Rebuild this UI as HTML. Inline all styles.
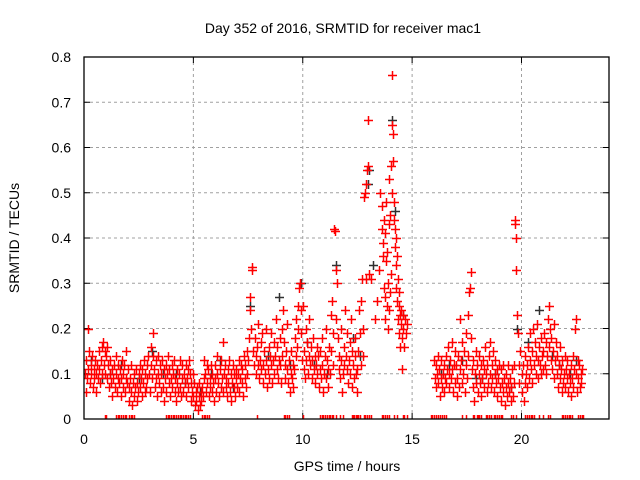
<!DOCTYPE html>
<html><head><meta charset="utf-8"><style>
html,body{margin:0;padding:0;background:#fff;}
svg{display:block;font-family:"Liberation Sans",sans-serif;}
</style></head><body>
<svg id="chart" width="640" height="480" viewBox="0 0 640 480">
<rect x="0" y="0" width="640" height="480" fill="#fff"/>
<text x="343" y="33" font-size="14" text-anchor="middle" fill="#000">Day 352 of 2016, SRMTID for receiver mac1</text>
<text x="347" y="471" font-size="14" text-anchor="middle" fill="#000">GPS time / hours</text>
<text transform="translate(19,238) rotate(-90)" font-size="14" text-anchor="middle" fill="#000">SRMTID / TECUs</text>
<g id="grid"></g>
<g id="axes"></g>
<g id="clipped" clip-path="url(#pc)">
<g id="black"></g>
<g id="red"></g>
</g>
<defs><clipPath id="pc"><rect x="84" y="57" width="525" height="362.5"/></clipPath></defs>
<rect x="84" y="57" width="525" height="362" fill="none" stroke="#000" stroke-width="1.3"/>
</svg>
<script>
const xTicks=[0,5,10,15,20];
const yTicks=[0,0.1,0.2,0.3,0.4,0.5,0.6,0.7,0.8];
const yTickLabels=["0","0.1","0.2","0.3","0.4","0.5","0.6","0.7","0.8"];
const redPoints=[
[0.05,.1],[.08,.13],[.1,.06],[.13,.09],[.16,.2],[.2,.11],[.24,.15],[.27,.08],[.3,.12],[.34,.1],[.37,.14],[.4,.07],[.44,.11],[.47,.09],[.5,.13],[.54,.1],[.57,.06],[.6,.12],[.64,.09],[.67,.15],[.7,.11],[.74,.08],[.77,.13],[.8,.1],[.84,.16],[.87,.17],[.9,.12],[.94,.15],[.97,.1],
[1.0,.14],[1.04,.16],[1.07,.09],[1.1,.12],[1.14,.07],[1.17,.1],[1.2,.13],[1.24,.08],[1.27,.11],[1.3,.05],[1.34,.09],[1.37,.12],[1.4,.07],[1.44,.1],[1.47,.14],[1.5,.06],[1.54,.09],[1.57,.12],[1.6,.08],[1.64,.11],[1.67,.05],[1.7,.09],[1.74,.13],[1.77,.07],[1.8,.1],[1.84,.12],[1.87,.06],[1.9,.09],[1.94,.15],[1.97,.08],
[2.0,.11],[2.04,.07],[2.07,.04],[2.1,.09],[2.14,.12],[2.17,.06],[2.2,.03],[2.24,.08],[2.27,.1],[2.3,.05],[2.34,.07],[2.37,.11],[2.4,.04],[2.44,.08],[2.47,.06],[2.5,.1],[2.54,.12],[2.57,.07],[2.6,.09],[2.64,.05],[2.67,.11],[2.7,.08],[2.74,.13],[2.77,.06],[2.8,.1],[2.84,.07],[2.87,.12],[2.9,.09],[2.94,.14],[2.97,.1],
[3.0,.06],[3.04,.12],[3.07,.16],[3.1,.09],[3.14,.14],[3.17,.19],[3.2,.11],[3.24,.07],[3.27,.13],[3.3,.09],[3.34,.05],[3.37,.1],[3.4,.14],[3.44,.08],[3.47,.12],[3.5,.06],[3.54,.1],[3.57,.13],[3.6,.07],[3.64,.11],[3.67,.04],[3.7,.09],[3.74,.12],[3.77,.06],[3.8,.1],[3.84,.14],[3.87,.08],[3.9,.11],[3.94,.05],[3.97,.09],
[4.0,.12],[4.04,.07],[4.07,.1],[4.1,.13],[4.14,.06],[4.17,.09],[4.2,.04],[4.24,.08],[4.27,.11],[4.3,.06],[4.34,.1],[4.37,.13],[4.4,.07],[4.44,.05],[4.47,.09],[4.5,.12],[4.54,.06],[4.57,.1],[4.6,.08],[4.64,.12],[4.67,.05],[4.7,.09],[4.74,.11],[4.77,.07],[4.8,.13],[4.84,.1],[4.87,.04],[4.9,.08],[4.94,.06],[4.97,.1],
[5.0,.05],[5.04,.08],[5.07,.03],[5.1,.06],[5.14,.04],[5.17,.07],[5.2,.02],[5.24,.05],[5.27,.08],[5.3,.03],[5.34,.06],[5.37,.04],[5.4,.07],[5.44,.05],[5.47,.09],[5.5,.13],[5.54,.1],[5.57,.06],[5.6,.12],[5.64,.08],[5.67,.11],[5.7,.05],[5.74,.09],[5.77,.07],[5.8,.12],[5.84,.06],[5.87,.1],[5.9,.08],[5.94,.04],[5.97,.09],
[6.0,.12],[6.04,.06],[6.07,.1],[6.1,.14],[6.14,.08],[6.17,.05],[6.2,.11],[6.24,.07],[6.27,.13],[6.3,.09],[6.34,.17],[6.37,.06],[6.4,.1],[6.44,.12],[6.47,.07],[6.5,.09],[6.54,.05],[6.57,.11],[6.6,.08],[6.64,.13],[6.67,.06],[6.7,.1],[6.74,.04],[6.77,.08],[6.8,.12],[6.84,.07],[6.87,.1],[6.9,.05],[6.94,.09],[6.97,.11],
[7.0,.07],[7.04,.1],[7.07,.13],[7.1,.06],[7.14,.09],[7.17,.12],[7.2,.08],[7.24,.11],[7.27,.05],[7.3,.14],[7.34,.09],[7.37,.12],[7.4,.07],[7.44,.1],[7.47,.15],[7.5,.13],[7.54,.18],[7.57,.27],[7.6,.24],[7.64,.2],[7.67,.335],[7.7,.33],[7.74,.15],[7.77,.12],[7.8,.18],[7.84,.1],[7.87,.14],[7.9,.16],[7.94,.21],[7.97,.12],
[8.0,.09],[8.04,.13],[8.07,.17],[8.1,.11],[8.14,.19],[8.17,.08],[8.2,.12],[8.24,.15],[8.27,.1],[8.3,.2],[8.34,.13],[8.37,.07],[8.4,.11],[8.44,.16],[8.47,.09],[8.5,.14],[8.54,.19],[8.57,.12],[8.6,.08],[8.64,.13],[8.67,.17],[8.7,.1],[8.74,.14],[8.77,.22],[8.8,.11],[8.84,.16],[8.87,.09],[8.9,.13],[8.94,.18],[8.97,.12],
[9.0,.08],[9.04,.14],[9.07,.2],[9.1,.24],[9.14,.17],[9.17,.12],[9.2,.09],[9.24,.15],[9.27,.21],[9.3,.11],[9.34,.08],[9.37,.13],[9.4,.06],[9.44,.1],[9.47,.15],[9.5,.09],[9.54,.12],[9.57,.07],[9.6,.11],[9.64,.18],[9.67,.14],[9.7,.22],[9.74,.16],[9.77,.25],[9.8,.2],[9.84,.29],[9.87,.3],[9.9,.24],[9.94,.19],[9.97,.13],
[10.0,.25],[10.04,.11],[10.07,.15],[10.1,.09],[10.14,.2],[10.17,.13],[10.2,.17],[10.24,.1],[10.27,.14],[10.3,.22],[10.34,.12],[10.37,.16],[10.4,.09],[10.44,.13],[10.47,.18],[10.5,.11],[10.54,.14],[10.57,.08],[10.6,.12],[10.64,.16],[10.67,.1],[10.7,.14],[10.74,.07],[10.77,.11],[10.8,.15],[10.84,.09],[10.87,.18],[10.9,.12],[10.94,.06],[10.97,.1],
[11.0,.14],[11.04,.09],[11.07,.2],[11.1,.13],[11.14,.07],[11.17,.11],[11.2,.16],[11.24,.1],[11.27,.23],[11.3,.15],[11.34,.26],[11.37,.19],[11.4,.12],[11.44,.42],[11.47,.415],[11.5,.22],[11.54,.33],[11.57,.3],[11.6,.18],[11.64,.11],[11.67,.14],[11.7,.09],[11.74,.2],[11.77,.13],[11.8,.06],[11.84,.1],[11.87,.16],[11.9,.12],[11.94,.24],[11.97,.14],
[12.0,.19],[12.04,.11],[12.07,.08],[12.1,.13],[12.14,.17],[12.17,.1],[12.2,.22],[12.24,.15],[12.27,.07],[12.3,.12],[12.34,.09],[12.37,.14],[12.4,.18],[12.44,.1],[12.47,.06],[12.5,.11],[12.54,.15],[12.57,.24],[12.6,.19],[12.64,.12],[12.67,.26],[12.7,.31],[12.74,.2],[12.77,.14],[12.8,.49],[12.84,.5],[12.87,.52],[12.9,.31],[12.94,.55],[12.97,.66],
[13.0,.56],[13.04,.32],[13.1,.31],[13.3,.22],[13.4,.26],[13.5,.33],[13.55,.5],[13.6,.42],[13.63,.47],[13.65,.39],[13.68,.36],[13.7,.44],[13.72,.29],[13.74,.27],[13.76,.41],[13.78,.22],[13.8,.35],[13.82,.48],[13.84,.25],[13.86,.37],[13.88,.3],[13.9,.2],[13.92,.43],[13.94,.24],[13.96,.53],[13.98,.28],
[14.0,.45],[14.02,.56],[14.04,.32],[14.06,.5],[14.08,.76],[14.1,.65],[14.12,.63],[14.14,.57],[14.16,.48],[14.18,.44],[14.2,.38],[14.22,.42],[14.24,.34],[14.26,.4],[14.28,.29],[14.3,.36],[14.32,.26],[14.34,.31],[14.36,.22],[14.38,.25],[14.4,.19],[14.42,.28],[14.44,.23],[14.46,.16],[14.48,.21],[14.5,.24],[14.52,.18],[14.54,.11],[14.56,.2],[14.6,.23],[14.64,.16],[14.68,.22],[14.72,.19],[14.76,.21],
[16.0,.13],[16.04,.09],[16.07,.12],[16.1,.07],[16.14,.1],[16.17,.14],[16.2,.08],[16.24,.11],[16.27,.05],[16.3,.09],[16.34,.13],[16.37,.07],[16.4,.1],[16.44,.06],[16.47,.12],[16.5,.09],[16.54,.14],[16.57,.08],[16.6,.11],[16.64,.16],[16.67,.1],[16.7,.07],[16.74,.13],[16.77,.09],[16.8,.17],[16.84,.11],[16.87,.06],[16.9,.12],[16.94,.15],[16.97,.08],
[17.0,.12],[17.04,.05],[17.07,.09],[17.1,.14],[17.14,.07],[17.17,.11],[17.2,.22],[17.24,.13],[17.27,.08],[17.3,.17],[17.34,.1],[17.37,.15],[17.4,.06],[17.44,.12],[17.47,.19],[17.5,.09],[17.54,.23],[17.57,.14],[17.6,.28],[17.64,.29],[17.67,.325],[17.7,.18],[17.74,.11],[17.77,.07],[17.8,.13],[17.84,.04],[17.87,.1],[17.9,.15],[17.94,.08],[17.97,.12],
[18.0,.06],[18.04,.1],[18.07,.14],[18.1,.08],[18.14,.12],[18.17,.05],[18.2,.09],[18.24,.13],[18.27,.07],[18.3,.11],[18.34,.16],[18.37,.1],[18.4,.06],[18.44,.12],[18.47,.08],[18.5,.14],[18.54,.17],[18.57,.1],[18.6,.07],[18.64,.12],[18.67,.09],[18.7,.15],[18.74,.06],[18.77,.1],[18.8,.13],[18.84,.08],[18.87,.11],[18.9,.05],[18.94,.09],[18.97,.12],
[19.0,.07],[19.04,.11],[19.07,.04],[19.1,.08],[19.14,.12],[19.17,.06],[19.2,.09],[19.24,.03],[19.27,.07],[19.3,.1],[19.34,.05],[19.37,.08],[19.4,.12],[19.44,.06],[19.47,.09],[19.5,.04],[19.54,.07],[19.57,.11],[19.6,.05],[19.64,.08],[19.67,.12],[19.7,.43],[19.72,.44],[19.74,.4],[19.76,.33],[19.8,.23],[19.84,.19],[19.87,.12],[19.9,.08],[19.94,.15],
[20.0,.1],[20.04,.06],[20.07,.12],[20.1,.04],[20.14,.08],[20.17,.14],[20.2,.1],[20.24,.07],[20.27,.12],[20.3,.16],[20.34,.09],[20.37,.13],[20.4,.19],[20.44,.11],[20.47,.15],[20.5,.08],[20.54,.2],[20.57,.12],[20.6,.17],[20.64,.1],[20.67,.14],[20.7,.21],[20.74,.13],[20.77,.09],[20.8,.16],[20.84,.12],[20.87,.18],[20.9,.1],[20.94,.14],[20.97,.11],
[21.0,.15],[21.04,.19],[21.07,.12],[21.1,.17],[21.14,.1],[21.17,.14],[21.2,.22],[21.24,.16],[21.27,.25],[21.3,.2],[21.34,.13],[21.37,.18],[21.4,.11],[21.44,.15],[21.47,.21],[21.5,.09],[21.54,.13],[21.57,.17],[21.6,.1],[21.64,.14],[21.67,.07],[21.7,.12],[21.74,.16],[21.77,.09],[21.8,.11],[21.84,.06],[21.87,.13],[21.9,.08],[21.94,.1],[21.97,.14],
[22.0,.07],[22.04,.11],[22.07,.09],[22.1,.13],[22.14,.06],[22.17,.1],[22.2,.08],[22.24,.12],[22.27,.05],[22.3,.09],[22.34,.14],[22.37,.07],[22.4,.11],[22.44,.2],[22.47,.22],[22.5,.1],[22.54,.06],[22.57,.13],[22.6,.09],[22.64,.12],[22.67,.07],[22.7,.1],[22.74,.08],[22.77,.11]
];
const redZeroTimes=[0.96,1.0,1.46,1.54,1.62,1.7,1.78,1.86,1.92,2.05,2.13,2.21,2.28,3.74,3.82,3.88,3.97,4.05,4.13,4.21,4.29,4.37,4.43,4.52,4.6,4.68,4.76,4.84,5.39,5.47,5.55,5.63,5.71,7.9,9.13,9.2,9.28,9.36,10.0,10.78,10.86,10.94,11.02,11.1,11.18,11.23,11.32,11.4,11.5,11.69,11.83,12.24,12.3,12.36,12.42,12.47,12.53,12.6,12.78,12.86,12.94,13.02,13.1,13.6,13.68,13.76,13.84,13.93,14.16,14.3,14.57,14.65,14.75,15.84,15.92,16.0,16.07,16.2,16.28,16.36,16.44,16.53,17.3,17.44,17.76,17.85,17.95,17.99,18.06,18.13,18.36,18.44,18.52,18.6,18.72,18.81,18.9,18.98,19.06,19.13,19.54,19.62,19.73,20.18,20.26,20.34,20.42,20.5,20.55,20.82,20.96,21.19,21.32,21.83,21.91,21.99,22.07,22.15,22.23,22.33,22.6,22.68,22.76,22.83];
const blackPoints=[[0.3,.13],[0.8,.09],[1.2,.1],[1.7,.12],[2.5,.09],[3.1,.15],[3.6,.1],[4.2,.1],[4.6,.08],[5.3,.06],[5.8,.1],[6.2,.13],[6.8,.07],[7.6,.25],[8.4,.14],[8.9,.27],[9.4,.12],[9.9,.3],[10.2,.17],[10.5,.12],[11.1,.1],[11.5,.34],[12.3,.18],[12.6,.14],[13.0,.52],[13.05,.55],[13.2,.34],[14.1,.66],[14.2,.46],[14.6,.23],[16.3,.1],[16.7,.12],[17.3,.13],[17.9,.09],[18.2,.09],[18.8,.1],[19.5,.07],[19.8,.2],[20.3,.17],[20.8,.24],[21.4,.14],[21.7,.12],[22.2,.1],[22.5,.13]];
const X0=84,X1=609,Y0=419,Y1=57,XMAX=24,YMAX=0.8;
function xs(t){return X0+(X1-X0)*t/XMAX;}
function ys(v){return Y0-(Y0-Y1)*v/YMAX;}
const NS="http://www.w3.org/2000/svg";
function mk(tag,attrs,parent){const e=document.createElementNS(NS,tag);for(const k in attrs)e.setAttribute(k,attrs[k]);parent.appendChild(e);return e;}
const grid=document.getElementById('grid'),axes=document.getElementById('axes');
yTicks.forEach((v,i)=>{
  const y=ys(v);
  if(i>0&&i<yTicks.length-1){const g=mk('line',{x1:X0,x2:X1,y1:y,y2:y,stroke:'#a0a0a0','stroke-dasharray':'3,3'},grid);
  
  }
  const tk=mk('path',{d:`M${X0},${y}h6M${X1},${y}h-6`,stroke:'#000'},axes);
  
  
  const t=mk('text',{x:71,y:y+5,'font-size':14,'text-anchor':'end',fill:'#000'},axes);
  t.textContent=yTickLabels[i];
  
  
});
xTicks.forEach((v,i)=>{
  const x=xs(v);
  if(i>0){const g=mk('line',{x1:x,x2:x,y1:Y0,y2:Y1,stroke:'#a0a0a0','stroke-dasharray':'3,3'},grid);
  
  }
  const tk=mk('path',{d:`M${x},${Y0}v-6M${x},${Y1}v6`,stroke:'#000'},axes);
  
  
  const t=mk('text',{x:x,y:444,'font-size':14,'text-anchor':'middle',fill:'#000'},axes);
  t.textContent=String(v);
  
  
});
function plus(parent,t,v,color){
  const x=Math.round(xs(t))+0.5,y=Math.round(ys(v))+0.5;
  const p=mk('path',{d:`M${x-4.5},${y}h9M${x},${y-4.5}v9`,stroke:color,'stroke-width':1.5,fill:'none'},parent);
  
  
}
const bg=document.getElementById('black'),rg=document.getElementById('red');
blackPoints.forEach(p=>plus(bg,p[0],p[1],'#303030'));
redPoints.forEach(p=>plus(rg,p[0],p[1],'#ff0000'));
redZeroTimes.forEach(t=>plus(rg,t,0,'#ff0000'));
</script>
</body></html>
